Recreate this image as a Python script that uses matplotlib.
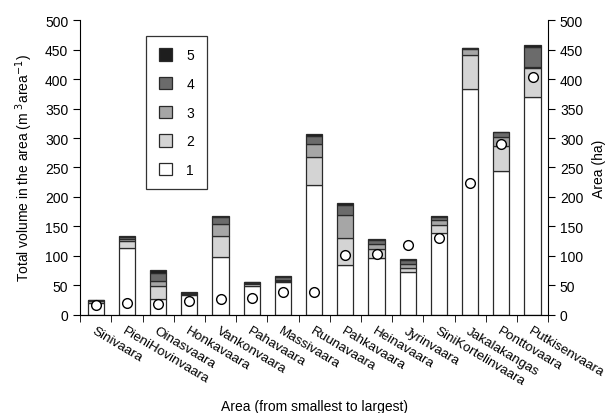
import numpy as np
import matplotlib.pyplot as plt

plt.rcParams['font.family'] = ['Liberation Sans', 'DejaVu Sans']
plt.rcParams['font.size'] = 10

areas = ['Sinivaara', 'PieniHovinvaara', 'Oinasvaara', 'Honkavaara', 'Vankonvaara',
         'Pahavaara', 'Massivaara', 'Ruunavaara', 'Pahkavaara', 'Heinavaara',
         'Jyrinvaara', 'SiniKortelinvaara', 'Jakalakangas', 'Ponttovaara', 'Putkisenvaara']

# volume per class (m3 / area), classes 1..5
vol1 = [21, 114, 26.5, 34.5, 98, 49, 56.5, 221, 85, 96, 72.5, 139, 384, 244, 370]
vol2 = [2, 11, 23, 1, 35, 3, 1.5, 47, 46, 15, 7, 13.5, 57, 43, 48]
vol3 = [1, 3, 8, 1, 20.5, 2, 1, 22, 38, 9, 6, 8.5, 10, 15, 3]
vol4 = [1, 3.5, 13, 0.5, 12.5, 1.5, 5.5, 13, 18, 7, 7, 5, 1, 7.5, 34]
vol5 = [0.5, 1.5, 5.7, 1, 1.5, 1, 1.3, 3, 2, 1, 2, 2, 1, 1.5, 2]

# area of each site (ha)
area_ha = [16, 20, 18, 23, 27, 29, 38, 39, 101, 103, 119, 131, 224, 290, 403]

layers = [vol1, vol2, vol3, vol4, vol5]
colors = ['white', '#d4d4d4', '#a6a6a6', '#6b6b6b', '#1e1e1e']
names = ['1', '2', '3', '4', '5']

fig = plt.figure(figsize=(6.07, 4.14), dpi=100)
ax = fig.add_axes([0.132, 0.237, 0.771, 0.712])
x = np.arange(len(areas))

bottom = np.zeros(len(areas))
handles = []
for vals, c, n in zip(layers, colors, names):
    b = ax.bar(x, vals, 0.52, bottom=bottom, color=c, edgecolor='#2a2a2a', linewidth=0.9, label=n)
    bottom += np.array(vals)
    handles.append(b)

ax.set_xlim(-0.5, len(areas) - 0.5)
ax.set_ylim(0, 500)
ax.set_yticks(np.arange(0, 501, 50))
ax.set_xticks(x)
ax.set_xticklabels(areas, rotation=-31, ha='left', rotation_mode='anchor', fontsize=9.7)
ax.tick_params(axis='x', length=0, pad=7)
ax.set_xticks(np.arange(-0.5, len(areas), 1), minor=True)
ax.tick_params(axis='x', which='minor', length=5, direction='out')
ax.tick_params(axis='y', length=5, direction='out')
ax.spines['top'].set_visible(False)
ax.spines['right'].set_visible(False)
ax.set_ylabel('Total volume in the area (m $^{3}$area$^{-1}$)', labelpad=7)
ax.set_xlabel('Area (from smallest to largest)')
ax.xaxis.set_label_coords(0.5, -0.285)

ax2 = ax.twinx()
ax2.plot(x, area_ha, 'o', mfc='white', mec='black', mew=1.0, ms=7, linestyle='none')
ax2.set_ylim(0, 500)
ax2.set_yticks(np.arange(0, 501, 50))
ax2.tick_params(axis='y', length=5, direction='out')
ax2.spines['top'].set_visible(False)
ax2.spines['left'].set_visible(False)
ax2.set_ylabel('Area (ha)', labelpad=6)

leg = ax.legend(handles[::-1], names[::-1], loc='upper left', bbox_to_anchor=(0.126, 0.97),
                frameon=True, fancybox=False, edgecolor='black', handlelength=1.0,
                handleheight=1.0, labelspacing=1.05, borderpad=0.9, handletextpad=1.0)
leg.get_frame().set_linewidth(0.9)

plt.savefig('out.png')
